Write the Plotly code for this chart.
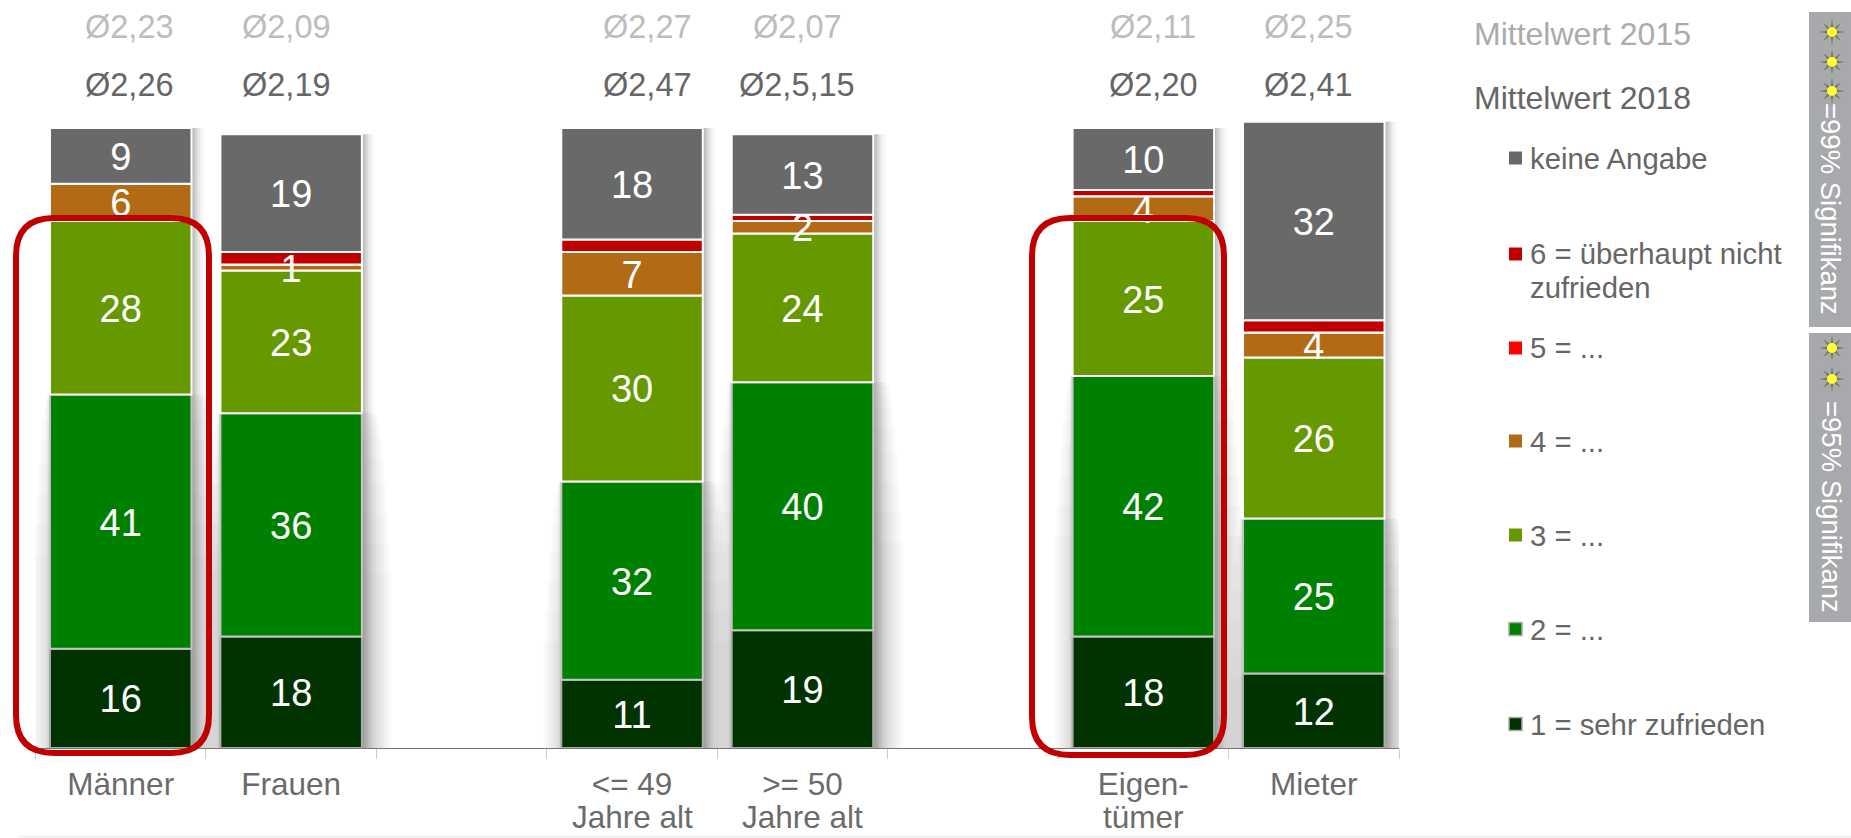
import math
import plotly.graph_objects as go

W, H = 1851, 838
PLOT_L, PLOT_R, BASE_Y = 35.5, 1399.0, 748.0
PX_PER_PCT = 6.2

categories = ["Männer", "Frauen", " ", "<= 49", ">= 50", "  ", "Eigen-", "Mieter"]
second_lines = {"<= 49": "Jahre alt", ">= 50": "Jahre alt", "Eigen-": "tümer"}

sehr_zufrieden = [16, 18, None, 11, 19, None, 18, 12]
wert_2 = [41, 36, None, 32, 40, None, 42, 25]
wert_3 = [28, 23, None, 30, 24, None, 25, 26]
wert_4 = [6, 1, None, 7, 2, None, 4, 4]
wert_5 = [0, 0, None, 0, 0, None, 0, 0]
wert_6 = [0, 2, None, 2, 1, None, 1, 2]
keine_angabe = [9, 19, None, 18, 13, None, 10, 32]

mean_2015 = ["Ø2,23", "Ø2,09", None, "Ø2,27", "Ø2,07", None, "Ø2,11", "Ø2,25"]
mean_2018 = ["Ø2,26", "Ø2,19", None, "Ø2,47", "Ø2,5,15", None, "Ø2,20", "Ø2,41"]
mean_shift = [9, -5, 0, 15, -5, 0, 10, -5]

series = [
    ("1 = sehr zufrieden", sehr_zufrieden, "#003300", "#ABABAB", True),
    ("2 = ...", wert_2, "#008000", "#C4C4C4", True),
    ("3 = ...", wert_3, "#669900", "#FFFFFF", True),
    ("4 = ...", wert_4, "#B26B14", "#FFFFFF", True),
    ("5 = ...", wert_5, "#FF0000", "#FFFFFF", False),
    ("6 = überhaupt nicht<br>zufrieden", wert_6, "#C00000", "#FFFFFF", False),
    ("keine Angabe", keine_angabe, "#696969", "#FFFFFF", True),
]

FONT = "Liberation Sans, Arial, sans-serif"
CAT_PX = (PLOT_R - PLOT_L) / 8
BAR_W = 141.5 / CAT_PX


def px(x):
    return x / W


def py(y):
    return 1 - y / H


fig = go.Figure()

bases = []
run = [0 if v is not None else None for v in sehr_zufrieden]
for _, vals, *_ in series:
    bases.append(list(run))
    run = [None if r is None else r + (v or 0) for r, v in zip(run, vals)]
totals = run
lower_top = [None if a is None else a + b for a, b in zip(sehr_zufrieden, wert_2)]
BOTTOM = -3.5 / PX_PER_PCT

# soft shadows: (left px, right px, px dropped from top, alpha)
lower_layers = [
    (-18, 30, 160, 0.018), (-16, 28, 130, 0.018), (-14, 26, 100, 0.018), (-12, 24, 70, 0.018),
    (-10, 22, 45, 0.018), (-8, 20, 25, 0.018), (-6, 18, 12, 0.02),
    (-4, 16, 4, 0.025), (-3, 14, 0, 0.03), (-2, 12, 0, 0.04), (-1, 10, 0, 0.05),
    (0, 8, 0, 0.06), (0, 6, 0, 0.07), (0, 4, 0, 0.08), (0, 2, 0, 0.09),
]
upper_layers = [(0, 14, 0.012), (0, 12, 0.02), (0, 10, 0.03), (0, 8, 0.05), (0, 6, 0.07), (0, 4, 0.09), (0, 2, 0.1)]
for left, right, drop, alpha in lower_layers:
    fig.add_trace(go.Bar(
        x=categories,
        y=[None if t is None else t - drop / PX_PER_PCT - BOTTOM for t in lower_top],
        base=BOTTOM, width=BAR_W + (right - left) / CAT_PX,
        offset=-BAR_W / 2 + left / CAT_PX,
        marker=dict(color=f"rgba(40,40,40,{alpha})", line_width=0),
        cliponaxis=False, showlegend=False, hoverinfo="skip"))
for left, right, alpha in upper_layers:
    fig.add_trace(go.Bar(
        x=categories,
        y=[None if t is None else t - l for t, l in zip(totals, lower_top)],
        base=lower_top, width=BAR_W + (right - left) / CAT_PX,
        offset=-BAR_W / 2 + left / CAT_PX,
        marker=dict(color=f"rgba(40,40,40,{alpha})", line_width=0),
        cliponaxis=False, showlegend=False, hoverinfo="skip"))

for (name, vals, col, edge, _), base in zip(series, bases):
    fig.add_trace(go.Bar(
        x=categories, y=vals, base=base, width=BAR_W, name=name.replace("<br>", " "),
        marker=dict(color=col, line=dict(color=edge, width=2)),
        showlegend=False, hoverinfo="x+y+name"))

LABEL_NUDGE = 4.5 / PX_PER_PCT
for (name, vals, col, edge, labelled), base in zip(series, bases):
    if not labelled:
        continue
    fig.add_trace(go.Scatter(
        x=categories,
        y=[None if v is None else b + v / 2 - LABEL_NUDGE for v, b in zip(vals, base)],
        text=[None if v is None else str(v) for v in vals],
        mode="text", textposition="middle center",
        textfont=dict(family=FONT, size=38, color="#FFFFFF"),
        cliponaxis=False, showlegend=False, hoverinfo="skip"))

ann = []


def text(x, y, s, size, color, xanchor="left", angle=0, xref="paper", xshift=0):
    ann.append(dict(x=x, y=py(y), xref=xref, yref="paper", text=s, showarrow=False,
                    xanchor=xanchor, yanchor="middle", textangle=angle, xshift=xshift,
                    font=dict(family=FONT, size=size, color=color)))


for c, a, b, s in zip(categories, mean_2015, mean_2018, mean_shift):
    if a:
        text(c, 27, a, 32.5, "#BBBDBF", "center", xref="x", xshift=s)
        text(c, 85, b, 32.5, "#666666", "center", xref="x", xshift=s)
    if c in second_lines:
        text(c, 817, second_lines[c], 31.5, "#6B6B6B", "center", xref="x")

text(px(1472), 34, "Mittelwert 2015", 32, "#ABABAB")
text(px(1472), 98, "Mittelwert 2018", 32, "#666666")

shapes = []
legend_rows = [
    ("keine Angabe", 158, "#696969", None),
    ("6 = überhaupt nicht", 254, "#C00000", None),
    ("zufrieden", 287, None, None),
    ("5 = ...", 348, "#FF0000", None),
    ("4 = ...", 441, "#B26B14", None),
    ("3 = ...", 535, "#669900", None),
    ("2 = ...", 629, "#008000", "#ABABAB"),
    ("1 = sehr zufrieden", 724, "#003300", "#ABABAB"),
]
for label, y, col, edge in legend_rows:
    text(px(1528), y, label, 29.3, "#666666")
    if col:
        shapes.append(dict(type="rect", xref="paper", yref="paper",
                           x0=px(1509), x1=px(1522), y0=py(y - 6.5), y1=py(y + 6.5),
                           fillcolor=col, line=dict(color=edge or col, width=1.5 if edge else 0)))

for y0, y1 in [(12, 327), (333, 622)]:
    shapes.append(dict(type="rect", xref="paper", yref="paper", x0=px(1809), x1=px(1851),
                       y0=py(y0), y1=py(y1), fillcolor="#A7A9AC", line_width=0, layer="below"))
text(px(1831), 209, "=99% Signifikanz", 27.5, "#FFFFFF", "center", 90)
text(px(1831), 507, "=95% Signifikanz", 27.5, "#FFFFFF", "center", 90)


def sun(cx, cy):
    pts = []
    for i in range(16):
        r = 13 if i % 2 == 0 else 3.8
        t = math.pi * i / 8
        pts.append((px(cx + r * math.cos(t)), py(cy + r * math.sin(t))))
    d = "M" + " L".join(f"{a:.5f},{b:.5f}" for a, b in pts) + " Z"
    shapes.append(dict(type="path", xref="paper", yref="paper", path=d,
                       fillcolor="#77775A", line_width=0))
    shapes.append(dict(type="circle", xref="paper", yref="paper",
                       x0=px(cx - 5), x1=px(cx + 5), y0=py(cy - 5), y1=py(cy + 5),
                       fillcolor="#FFFF33", line_width=0))


for cy in (32, 62, 91, 348, 379):
    sun(1832, cy)


def round_rect(x0, y0, x1, y1, r):
    return (f"M{px(x0 + r):.5f},{py(y0):.5f} L{px(x1 - r):.5f},{py(y0):.5f} "
            f"Q{px(x1):.5f},{py(y0):.5f} {px(x1):.5f},{py(y0 + r):.5f} "
            f"L{px(x1):.5f},{py(y1 - r):.5f} Q{px(x1):.5f},{py(y1):.5f} {px(x1 - r):.5f},{py(y1):.5f} "
            f"L{px(x0 + r):.5f},{py(y1):.5f} Q{px(x0):.5f},{py(y1):.5f} {px(x0):.5f},{py(y1 - r):.5f} "
            f"L{px(x0):.5f},{py(y0 + r):.5f} Q{px(x0):.5f},{py(y0):.5f} {px(x0 + r):.5f},{py(y0):.5f} Z")


for box in [(16, 218, 209, 753), (1032, 218, 1224, 755)]:
    shapes.append(dict(type="path", xref="paper", yref="paper", path=round_rect(*box, 38),
                       line=dict(color="#C00000", width=6), fillcolor="rgba(0,0,0,0)", layer="above"))

shapes.append(dict(type="line", xref="paper", yref="paper", x0=px(18), x1=1, y0=py(836.5), y1=py(836.5),
                   line=dict(color="#EEEEEE", width=1.5), layer="below"))

fig.update_layout(
    width=W, height=H, barmode="overlay", showlegend=False,
    margin=dict(l=0, r=0, t=0, b=0), plot_bgcolor="rgba(0,0,0,0)", paper_bgcolor="white",
    font=dict(family=FONT), annotations=ann, shapes=shapes,
    xaxis=dict(domain=[px(PLOT_L), px(PLOT_R)], type="category", categoryorder="array",
               categoryarray=categories, range=[-0.5, 7.5], dtick=1, tickson="boundaries",
               ticks="outside", ticklen=10, tickwidth=1, tickcolor="#CCCCCC",
               showline=True, linecolor="#777777", linewidth=1, showgrid=False, zeroline=False,
               tickangle=0, ticklabelstandoff=8,
               tickfont=dict(family=FONT, size=31.5, color="#6B6B6B")),
    yaxis=dict(domain=[py(BASE_Y), 1], range=[0, BASE_Y / PX_PER_PCT], visible=False),
)

fig.write_html("out.html", config={"displayModeBar": False},
               post_script="document.body.style.margin='0';document.body.style.overflow='hidden';")
